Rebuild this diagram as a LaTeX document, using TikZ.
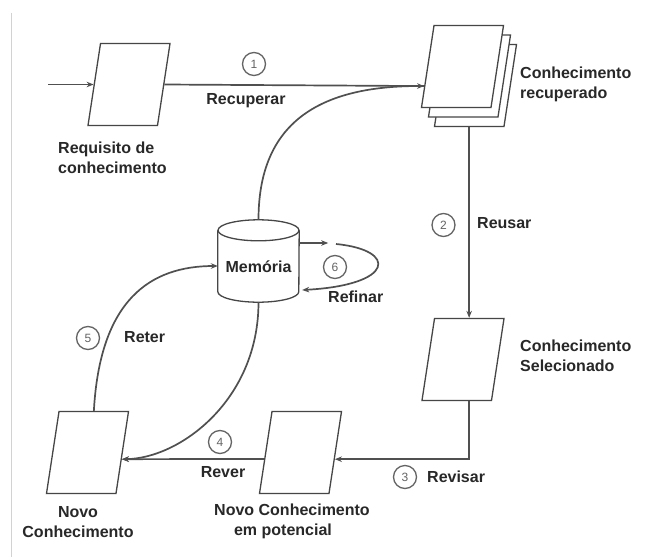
\documentclass[tikz,border=0pt]{standalone}
\usepackage{fontspec}
\setmainfont{Liberation Sans}
\usetikzlibrary{shapes.geometric,arrows.meta}
\definecolor{ln}{RGB}{80,80,80}
\definecolor{sh}{RGB}{70,70,70}
\definecolor{tx}{RGB}{40,40,40}
\definecolor{nc}{RGB}{100,100,100}
\newcommand{\dotbox}{\phantom{\rule{2pt}{2pt}}}
\begin{document}
\begin{tikzpicture}[x=1pt,y=1pt,
 doc/.style={trapezium, trapezium left angle=77.6, trapezium right angle=102.4, trapezium stretches, minimum width=82pt, minimum height=82pt, inner sep=0pt, draw=sh, line width=1.3pt, fill=white},
 shp/.style={draw=sh, line width=1.3pt},
 conn/.style={draw=ln, line width=1.7pt},
 arr/.style={conn, -{Stealth[length=7pt,width=5.5pt]}},
 txt/.style={font=\fontsize{16pt}{20pt}\selectfont\bfseries, text=tx, inner sep=0pt},
 num/.style={circle, draw=nc, line width=1.3pt, minimum size=23pt, inner sep=0pt, text=nc, font=\fontsize{12pt}{14pt}\selectfont}
]
\fill[white] (0,0) rectangle (648,-557);
\useasboundingbox (0,0) rectangle (648,-557);
\draw[gray!35, line width=0.8pt] (11,-13) -- (11,-557);

% documents
\node[doc] (req) at (129,-84.5) {\dotbox};
\node[doc] (rec3) at (475.5,-85.5) {\dotbox};
\node[doc] (rec2) at (469.5,-76) {\dotbox};
\node[doc] (rec) at (462.5,-66.5) {\dotbox};
\node[doc] (sel) at (463,-359.5) {\dotbox};
\node[doc] (pot) at (300.5,-452.5) {\dotbox};
\node[doc] (novo) at (87.5,-452.5) {\dotbox};

% memory cylinder
\node[minimum width=81pt, minimum height=82pt, inner sep=0pt] (mem) at (258.5,-261) {};
\draw[shp, fill=white] ([yshift=-10.5pt]mem.north west) -- ([yshift=10.5pt]mem.south west)
  arc[start angle=180, end angle=360, x radius=40.5pt, y radius=10.5pt] -- ([yshift=-10.5pt]mem.north east);
\draw[shp] ([yshift=-10.5pt]mem.north) ellipse[x radius=40.5pt, y radius=10.5pt];
\node[txt] (tmem) at (258.5,-267) {Memória};

% texts
\node[txt, anchor=west, align=left] (treq) at (58,-157.5) {Requisito de\\conhecimento};
\node[txt, anchor=west, align=left] (trec) at (520,-84.5) {Conhecimento\\recuperado};
\node[txt, anchor=west, align=left] (tsel) at (520,-356) {Conhecimento\\Selecionado};
\node[txt, align=center] (tnovo) at (78,-522) {Novo\\Conhecimento};
\node[txt, align=center] (tpot) at (292,-521) {Novo Conhecimento\\em potencial\hspace*{18pt}};
\node[txt, anchor=base] (l1) at (246,-104) {Recuperar};
\node[txt, anchor=base west] (l2) at (477,-228) {Reusar};
\node[txt, anchor=base west] (l3) at (427,-482) {Revisar};
\node[txt, anchor=base] (l4) at (223,-477) {Rever};
\node[txt, anchor=base west] (l5) at (124,-342) {Reter};
\node[txt, anchor=base west] (l6) at (328,-302) {Refinar};

% numbers
\node[num] (n1) at (254,-64) {1};
\node[num] (n2) at (443.5,-225) {2};
\node[num] (n3) at (405,-477) {3};
\node[num] (n4) at (220,-442) {4};
\node[num] (n5) at (88,-338) {5};
\node[num] (n6) at (335,-267) {6};

% connectors
\coordinate (src) at (48,-84.5);
\coordinate (lp) at (336,-244);
\draw[arr] (src) -- (req.left side);
\draw[arr] (req.right side) -- (rec.207);
\draw[conn] (mem.north) .. controls (258.5,-130) and (310,-84.5) .. (rec.207);
\draw[arr] (rec3.bottom side) -- (rec3.bottom side |- sel.top side);
\draw[arr] (rec3.bottom side |- sel.bottom side) |- (pot.-11);
\draw[arr] (pot.190) -- (novo.-11);
\draw[arr] (mem.south) .. controls (258.5,-400) and (180,-458.5) .. (novo.-11);
\draw[arr] (novo.top side) .. controls (100,-300) and (150,-266) .. ([yshift=-5pt]mem.west);
\draw[arr] ([yshift=18pt]mem.east) -- ++(29,0);
\draw[arr] (lp) .. controls (398,-250) and (395,-285) .. ([shift={(3pt,-29pt)}]mem.east);
\end{tikzpicture}
\end{document}
